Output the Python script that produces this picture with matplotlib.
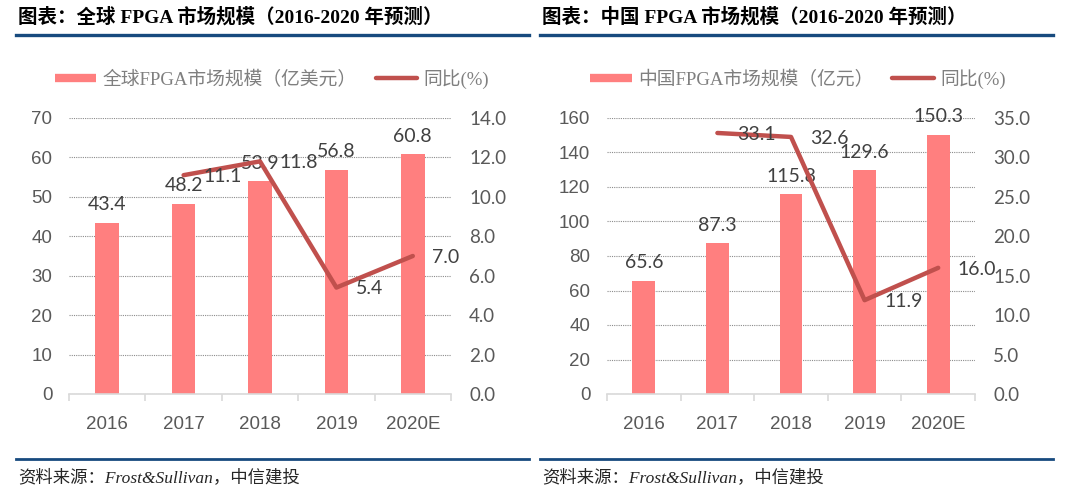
import matplotlib
matplotlib.use("Agg")
import matplotlib.pyplot as plt
import numpy as np
from matplotlib.lines import Line2D

# ---------------- data ----------------
categories = ["2016", "2017", "2018", "2019", "2020E"]

global_size = [43.4, 48.2, 53.9, 56.8, 60.8]          # 亿美元
global_yoy = [np.nan, 11.1, 11.8, 5.4, 7.0]           # %

china_size = [65.6, 87.3, 115.8, 129.6, 150.3]        # 亿元
china_yoy = [np.nan, 33.1, 32.6, 11.9, 16.0]          # %

titles = ["图表：全球 FPGA 市场规模（2016-2020 年预测）",
          "图表：中国 FPGA 市场规模（2016-2020 年预测）"]
bar_names = ["全球FPGA市场规模（亿美元）", "中国FPGA市场规模（亿元）"]
line_name = "同比(%)"
source = "资料来源：Frost&Sullivan，中信建投"

# ---------------- style ----------------
W, H = 1080, 491
BAR_C = "#FF7F7F"
LINE_C = "#C0504D"
BLUE = "#174A7E"
TICK_C = "#595959"
LBL_C = "#404040"
SERIF_CJK = ["Liberation Serif", "Noto Sans CJK SC"]
SANS = ["Liberation Sans", "DejaVu Sans"]
LBL_FONT = ["Lato", "DejaVu Sans"]

fig = plt.figure(figsize=(W / 100, H / 100), dpi=100)


def fx(px):
    return px / W


def fy(py):
    return 1 - py / H


def panel(x0, ax_left, ax_right, sizes, yoy, ymax, ystep, y2max, y2step,
          title, bar_name, legend_cx):
    # title & rules
    fig.text(fx(x0 + 2), fy(17), title, fontsize=14, fontweight="bold",
             family=SERIF_CJK, color="black", ha="left", va="center")
    fig.add_artist(Line2D([fx(x0), fx(x0 + 513)], [fy(34.5), fy(34.5)],
                          color=BLUE, lw=2.4, transform=fig.transFigure))
    fig.add_artist(Line2D([fx(x0), fx(x0 + 513)], [fy(458.5), fy(458.5)],
                          color=BLUE, lw=2.0, transform=fig.transFigure))
    fig.text(fx(x0 + 2), fy(478), source, fontsize=12.5, style="italic",
             family=SERIF_CJK, color="#262626", ha="left", va="center")

    ax = fig.add_axes([fx(ax_left), fy(394), fx(ax_right - ax_left), 276 / H])
    x = np.arange(len(categories))
    ax.bar(x, sizes, width=0.31, color=BAR_C, zorder=2, label=bar_name)
    ax.set_xlim(-0.5, len(categories) - 0.5)
    ax.set_ylim(0, ymax)
    ax.set_yticks(np.arange(0, ymax + 0.001, ystep))
    ax.yaxis.grid(True, linestyle=(0, (1, 1)), color="#8c8c8c", lw=0.8,
                  zorder=0)
    ax.set_axisbelow(True)
    for s in ["top", "left", "right"]:
        ax.spines[s].set_visible(False)
    ax.spines["bottom"].set_color("#D9D9D9")
    ax.spines["bottom"].set_linewidth(1.2)
    ax.set_xticks(x)
    ax.set_xticklabels(categories)
    ax.set_xticks(np.arange(-0.5, len(categories)), minor=True)
    ax.tick_params(axis="x", which="major", length=0, pad=16,
                   labelsize=13.5, labelcolor=TICK_C)
    ax.tick_params(axis="x", which="minor", length=5, color="#D9D9D9",
                   width=1.2)
    ax.tick_params(axis="y", length=0, pad=12, labelsize=13.5,
                   labelcolor=TICK_C)
    for lab in ax.get_xticklabels() + ax.get_yticklabels():
        lab.set_family(SANS)

    for xi, v in zip(x, sizes):
        ax.annotate(f"{v:.1f}", (xi, v), xytext=(0, 7),
                    textcoords="offset points", ha="center", va="bottom",
                    fontsize=14, family=LBL_FONT, color=LBL_C, zorder=5)

    ax2 = ax.twinx()
    ax2.set_ylim(0, y2max)
    ticks2 = np.arange(0, y2max + 0.001, y2step)
    ax2.set_yticks(ticks2)
    ax2.set_yticklabels([f"{t:.1f}" for t in ticks2])
    for s in ["top", "left", "right", "bottom"]:
        ax2.spines[s].set_visible(False)
    ax2.tick_params(axis="y", length=0, pad=13, labelsize=13.5,
                    labelcolor=TICK_C)
    for lab in ax2.get_yticklabels():
        lab.set_family(LBL_FONT)
    ax2.plot(x, yoy, color=LINE_C, lw=3.2, solid_capstyle="round",
             solid_joinstyle="round", zorder=3, label=line_name)
    for xi, v in zip(x, yoy):
        if np.isnan(v):
            continue
        ax2.annotate(f"{v:.1f}", (xi, v), xytext=(14, -1),
                     textcoords="offset points", ha="left", va="center",
                     fontsize=14, family=LBL_FONT, color=LBL_C, zorder=6)

    handles = [Line2D([], [], color=BAR_C, lw=6, solid_capstyle="butt"),
               Line2D([], [], color=LINE_C, lw=3.2, solid_capstyle="round")]
    fig.legend(handles, [bar_name, line_name], loc="center",
               bbox_to_anchor=(fx(legend_cx), fy(79)), ncol=2, frameon=False,
               handlelength=2.2, handletextpad=0.35, columnspacing=1.0,
               prop={"family": SERIF_CJK, "size": 13.5},
               labelcolor="#7f7f7f")
    return ax, ax2


panel(16, 69, 451, global_size, global_yoy, 70, 10, 14, 2,
      titles[0], bar_names[0], 272)
panel(540, 607, 975, china_size, china_yoy, 160, 20, 35, 5,
      titles[1], bar_names[1], 798)

fig.savefig("out.png", dpi=100)
